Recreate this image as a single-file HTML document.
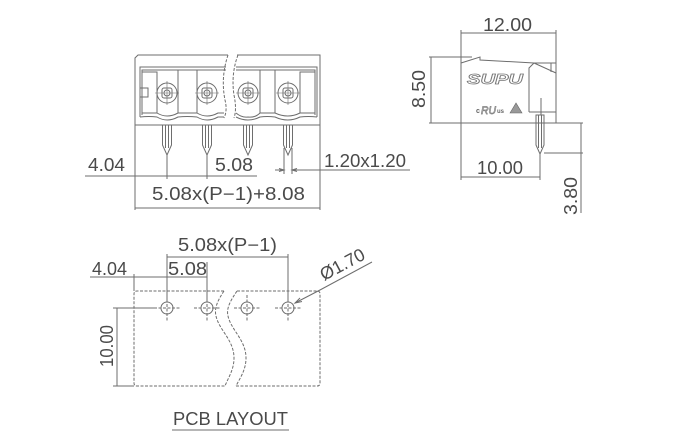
<!DOCTYPE html>
<html><head><meta charset="utf-8"><style>
html,body{margin:0;padding:0;background:#fff;}
svg{display:block}
text{font-family:"Liberation Sans",sans-serif;fill:#4a4a4a;font-size:18px;}
</style></head><body>
<svg width="680" height="440" viewBox="0 0 680 440" xmlns="http://www.w3.org/2000/svg">
<g fill="none" stroke="#6e6e6e" stroke-width="1">
  <!-- FRONT VIEW body -->
  <path d="M135,210 V58 L138,55 H228"/>
  <path d="M237,55 H320 V210"/>
  <path d="M135,125 H320"/>
  <path d="M228,55 C223,70 222,85 225,100 C227,108 226,114 224,118" stroke-dasharray="3,1.5"/>
  <path d="M238,55 C233,68 232,82 234,95 C236,105 236,112 234,118" stroke-dasharray="3,1.5"/>
  <!-- recess -->
  <path d="M226,67 H140 V117"/>
  <path d="M226,70 H142 V115"/>
  <path d="M236,67 H317 V117"/>
  <path d="M236,70 H315 V115"/>
  <rect x="142" y="72" width="15" height="41"/>
  <rect x="140" y="88" width="8" height="9"/>
  <rect x="178" y="70" width="19" height="43"/>
  <rect x="260" y="70" width="15" height="43"/>
  <rect x="300" y="72" width="15" height="41"/>
  <!-- wavy lower edge -->
  <path d="M142,113 H157 Q167,119 178,113 H197 Q207,119 218,113 L224,113"/>
  <path d="M140,117 Q149,116 157,117 Q167,123 178,117 Q187,116 197,117 Q207,123 218,117 L224,117"/>
  <path d="M236,113 Q242,118 248,117 Q255,118 260,113 H275 Q288,119 300,113 H315"/>
  <path d="M236,117 Q248,123 260,117 Q267,116 275,117 Q288,123 300,117 Q308,116 317,117"/>
  <!-- screws -->
  <g>
    <circle cx="167" cy="93" r="10"/><rect x="162" y="88" width="10" height="10" rx="2"/><circle cx="167" cy="93" r="3"/>
    <path d="M155,93 H179 M167,81 V105" stroke-width="0.6"/>
    <circle cx="207" cy="93" r="10"/><rect x="202" y="88" width="10" height="10" rx="2"/><circle cx="207" cy="93" r="3"/>
    <path d="M195,93 H219 M207,81 V105" stroke-width="0.6"/>
    <circle cx="248" cy="93" r="10"/><rect x="243" y="88" width="10" height="10" rx="2"/><circle cx="248" cy="93" r="3"/>
    <path d="M236,93 H260 M248,81 V105" stroke-width="0.6"/>
    <circle cx="288" cy="93" r="10"/><rect x="283" y="88" width="10" height="10" rx="2"/><circle cx="288" cy="93" r="3"/>
    <path d="M276,93 H300 M288,81 V105" stroke-width="0.6"/>
  </g>
  <!-- pins -->
  <path d="M162.5,125 V145 L167,155 L171.5,145 V125 M165.5,125 V148 M168.5,125 V148"/>
  <path d="M202.5,125 V145 L207,155 L211.5,145 V125 M205.5,125 V148 M208.5,125 V148"/>
  <path d="M243.5,125 V145 L248,155 L252.5,145 V125 M246.5,125 V148 M249.5,125 V148"/>
  <path d="M283.5,125 V145 L288,155 L292.5,145 V125 M286.5,125 V148 M289.5,125 V148"/>
  <!-- front dims -->
  <path d="M85,176 H257"/>
  <path d="M167,155 V179 M207,155 V179"/>
  <path d="M135,208 H320"/>
  <path d="M284,148 V174 M292,148 V174 M275,170 H284 M292,170 H410"/>
  <path d="M279,168.5 L284,170 L279,171.5 M297,168.5 L292,170 L297,171.5"/>

  <!-- SIDE VIEW -->
  <path d="M461,30 V180"/>
  <path d="M556,30 V123"/>
  <path d="M461,33 H556"/>
  <path d="M429,57 H472"/>
  <path d="M431,57 V123"/>
  <path d="M429,123 H583"/>
  <path d="M461,63 L480,57 V60 L534,63 H556 M534,63 L556,73"/>
  <path d="M529,112 V68 L534,63 M529,112 H556 M551,63 V72"/>
  <path d="M541,98 V115"/>
  <path d="M536,115 V145 L540,154 L544,145 V115 Z M538.5,115 V148 M541.5,115 V148"/>
  <path d="M540,154 V180"/>
  <path d="M461,177 H540"/>
  <path d="M544,153 H583"/>
  <path d="M581,123 V213"/>

  <!-- PCB LAYOUT -->
  <g stroke-dasharray="3,1.5">
    <path d="M224,291 H137 Q134,291 134,294 V383 Q134,386 137,386 H225"/>
    <path d="M237,291 H317 Q320,291 320,294 V383 Q320,386 317,386 H236"/>
    <path d="M224,291 C218,300 214,308 216,316 C219,330 234,340 234,358 C234,370 228,378 225,386"/>
    <path d="M237,291 C231,300 226,308 228,316 C231,330 246,340 246,358 C246,370 240,378 236,386"/>
    <path d="M154,308 H180 M167,295 V321"/>
    <path d="M194,308 H220 M207,295 V321"/>
    <path d="M234,308 H260 M247,295 V321"/>
    <path d="M275,308 H301 M288,295 V321"/>
  </g>
  <circle cx="167" cy="308" r="6"/>
  <circle cx="207" cy="308" r="6"/>
  <circle cx="247" cy="308" r="6"/>
  <circle cx="288" cy="308" r="6"/>
  <path d="M113,308 H154 M113,386 H134 M117,308 V386"/>
  <path d="M167,254 V300 M288,254 V300 M167,257 H288"/>
  <path d="M90,277 H207 M207,262 V300 M134,274 V291"/>
  <path d="M295,303 L320,290 L372,262"/>
  <path d="M300,298 L295,303 L302,301.5"/>
  <path d="M172,430 H289"/>
</g>

<!-- front view texts -->
<text x="88" y="171" textLength="37" lengthAdjust="spacingAndGlyphs">4.04</text>
<text x="215" y="171" textLength="38" lengthAdjust="spacingAndGlyphs">5.08</text>
<text x="152" y="200" textLength="153" lengthAdjust="spacingAndGlyphs">5.08x(P−1)+8.08</text>
<text x="324" y="167" textLength="82" lengthAdjust="spacingAndGlyphs">1.20x1.20</text>

<!-- side view texts -->
<text x="483" y="31" textLength="49" lengthAdjust="spacingAndGlyphs">12.00</text>
<text x="477" y="174" textLength="46" lengthAdjust="spacingAndGlyphs">10.00</text>
<text transform="translate(425,108) rotate(-90)" textLength="38" lengthAdjust="spacingAndGlyphs">8.50</text>
<text transform="translate(577,215) rotate(-90)" textLength="38" lengthAdjust="spacingAndGlyphs">3.80</text>
<text x="467" y="84" style="font-size:15px;font-style:italic;font-weight:bold;fill:#fff;stroke:#777;stroke-width:0.8" textLength="56" lengthAdjust="spacingAndGlyphs">SUPU</text>
<text x="476" y="113" style="font-size:7px;font-weight:bold;fill:#666">c</text>
<text x="481" y="114" style="font-size:11px;font-style:italic;fill:#fff;stroke:#777;stroke-width:0.7" textLength="15" lengthAdjust="spacingAndGlyphs">RU</text>
<text x="497" y="113" style="font-size:6px;font-weight:bold;fill:#666">us</text>
<polygon points="510,113 516,103 522,113" fill="#999" stroke="#666" stroke-width="0.6"/>

<!-- PCB texts -->
<text x="178" y="251" textLength="99" lengthAdjust="spacingAndGlyphs">5.08x(P−1)</text>
<text x="92" y="275" textLength="35" lengthAdjust="spacingAndGlyphs">4.04</text>
<text x="168" y="275" textLength="39" lengthAdjust="spacingAndGlyphs">5.08</text>
<text transform="translate(324,281) rotate(-28)" textLength="48" lengthAdjust="spacingAndGlyphs">Ø1.70</text>
<text transform="translate(113,367) rotate(-90)" textLength="42" lengthAdjust="spacingAndGlyphs">10.00</text>
<text x="173" y="425" textLength="115" lengthAdjust="spacingAndGlyphs">PCB LAYOUT</text>
</svg>
</body></html>
